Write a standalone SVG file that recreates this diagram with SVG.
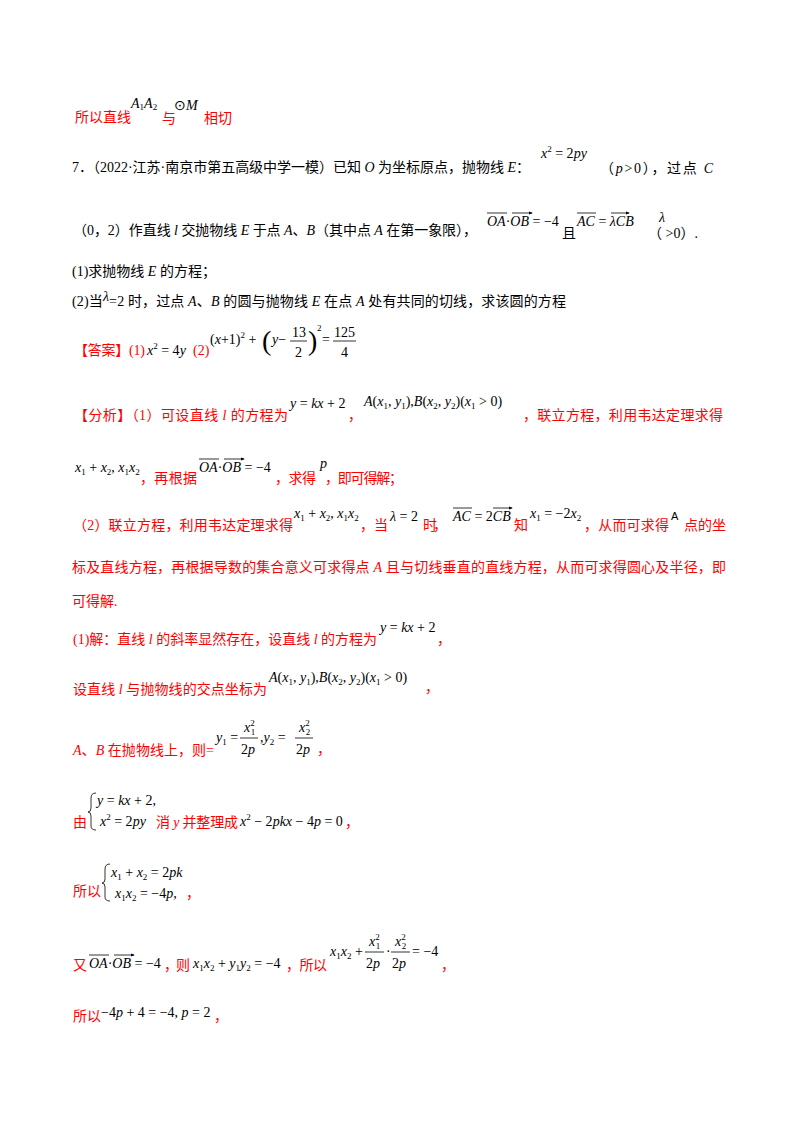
<svg xmlns="http://www.w3.org/2000/svg" width="800" height="1132" viewBox="0 0 800 1132">
<style>
text{font-family:"Liberation Serif","Noto Sans CJK SC",serif;font-size:14px;fill:#000}
.r{fill:#ff0000}
.m{font-family:"Liberation Serif",serif;font-style:italic}
.n{font-style:normal}
.s{font-size:9px}
.v{stroke:#000;stroke-width:0.8;fill:none}
.f{stroke:#000;stroke-width:0.8}
</style>
<defs><marker id="ah" markerWidth="5" markerHeight="4" refX="4" refY="2" orient="auto"><path d="M0,0L5,2L0,4z" fill="#000"/></marker></defs>
<rect width="800" height="1132" fill="#fff"/>
<g id="line1">
<text class="r" x="75" y="122">所以直线</text>
<text class="m" x="131" y="108">A<tspan class="s n" dy="2">1</tspan><tspan dy="-2">A</tspan><tspan class="s n" dy="2">2</tspan></text>
<text class="r" x="162" y="123">与</text>
<text class="m" x="174" y="110"><tspan class="n">⊙</tspan>M</text>
<text class="r" x="204" y="123">相切</text>
</g>
<g id="question">
<text x="72" y="172" textLength="458">7．（2022·江苏·南京市第五高级中学一模）已知 <tspan class="m">O</tspan> 为坐标原点，抛物线 <tspan class="m">E</tspan>：</text>
<text class="m" x="541" y="158">x<tspan class="s n" dy="-6">2</tspan><tspan class="n" dy="6"> = 2</tspan>py</text>
<text x="600" y="173" textLength="113">（<tspan class="m">p</tspan>&gt;0），过点 <tspan class="m">C</tspan></text>
<text x="73" y="235" textLength="404">（0，2）作直线 <tspan class="m">l</tspan> 交抛物线 <tspan class="m">E</tspan> 于点 <tspan class="m">A</tspan>、<tspan class="m">B</tspan>（其中点 <tspan class="m">A</tspan> 在第一象限），</text>
<text class="m" x="487" y="226">OA<tspan class="n">·</tspan>OB<tspan class="n"> = −4</tspan></text>
<path class="v" marker-end="url(#ah)" d="M487,213H507M512,213H532"/>
<text x="562" y="238">且</text>
<text class="m" x="577" y="226">AC<tspan class="n"> = </tspan>λCB</text>
<path class="v" marker-end="url(#ah)" d="M577,213H596M611,213H629"/>
<text class="m" x="659" y="222">λ</text>
<text x="648" y="238">（   &gt;0）.</text>
<text x="72" y="276">(1)求抛物线 <tspan class="m">E</tspan> 的方程；</text>
<text x="72" y="306" textLength="494">(2)当<tspan class="m" dy="-5">λ</tspan><tspan dy="5">=2 时，过点 </tspan><tspan class="m">A</tspan>、<tspan class="m">B</tspan> 的圆与抛物线 <tspan class="m">E</tspan> 在点 <tspan class="m">A</tspan> 处有共同的切线，求该圆的方程</text>
</g>
<g id="answer">
<text class="r" x="74" y="355" textLength="71">【答案】(1)</text>
<text class="m" x="147" y="355">x<tspan class="s n" dy="-6">2</tspan><tspan class="n" dy="6"> = 4</tspan>y</text>
<text class="r" x="193" y="355">(2)</text>
<text x="210" y="344">(<tspan class="m">x</tspan>+1)<tspan class="s" dy="-6">2</tspan><tspan dy="6"> + </tspan></text>
<text x="262" y="350" style="font-size:28px">(</text>
<text class="m" x="272" y="344">y<tspan class="n">−</tspan></text>
<text x="292" y="337">13</text><path class="f" d="M290,341H307"/><text x="295" y="357">2</text>
<text x="308" y="350" style="font-size:28px">)</text>
<text x="317" y="331" class="s">2</text>
<text x="322" y="344">=</text>
<text x="334" y="337">125</text><path class="f" d="M333,341H356"/><text x="341" y="357">4</text>
</g>
<g id="analysis">
<text class="r" x="74" y="420" textLength="214">【分析】（1）可设直线 <tspan class="m">l</tspan> 的方程为</text>
<text class="m" x="290" y="408">y<tspan class="n"> = </tspan>kx<tspan class="n"> + 2</tspan></text>
<text class="r" x="348" y="420">，</text>
<text class="m" x="364" y="406">A<tspan class="n">(</tspan>x<tspan class="s n" dy="3">1</tspan><tspan class="n" dy="-3">, </tspan>y<tspan class="s n" dy="3">1</tspan><tspan class="n" dy="-3">),</tspan>B<tspan class="n">(</tspan>x<tspan class="s n" dy="3">2</tspan><tspan class="n" dy="-3">, </tspan>y<tspan class="s n" dy="3">2</tspan><tspan class="n" dy="-3">)(</tspan>x<tspan class="s n" dy="3">1</tspan><tspan class="n" dy="-3"> &gt; 0)</tspan></text>
<text class="r" x="523" y="420" textLength="200">，联立方程，利用韦达定理求得</text>
<text class="m" x="75" y="472">x<tspan class="s n" dy="3">1</tspan><tspan class="n" dy="-3"> + </tspan>x<tspan class="s n" dy="3">2</tspan><tspan class="n" dy="-3">, </tspan>x<tspan class="s n" dy="3">1</tspan><tspan dy="-3">x</tspan><tspan class="s n" dy="3">2</tspan></text>
<text class="r" x="140" y="483" textLength="57">，再根据</text>
<text class="m" x="199" y="472">OA<tspan class="n">·</tspan>OB<tspan class="n"> = −4</tspan></text>
<path class="v" marker-end="url(#ah)" d="M199,459H219M224,459H244"/>
<text class="r" x="275" y="483" textLength="41">，求得</text>
<text class="m" x="320" y="468">p</text>
<text class="r" x="325" y="483" textLength="78">，即可得解；</text>
<text class="r" x="73" y="530" textLength="220">（2）联立方程，利用韦达定理求得</text>
<text class="m" x="294" y="518">x<tspan class="s n" dy="3">1</tspan><tspan class="n" dy="-3"> + </tspan>x<tspan class="s n" dy="3">2</tspan><tspan class="n" dy="-3">, </tspan>x<tspan class="s n" dy="3">1</tspan><tspan dy="-3">x</tspan><tspan class="s n" dy="3">2</tspan></text>
<text class="r" x="360" y="530" textLength="28">，当</text>
<text class="m" x="390" y="521">λ<tspan class="n"> = 2</tspan></text>
<text class="r" x="423" y="530" textLength="24">时，</text>
<text class="m" x="453" y="521">AC<tspan class="n"> = 2</tspan>CB</text>
<path class="v" marker-end="url(#ah)" d="M453,508H472M493,508H512"/>
<text class="r" x="514" y="530">知</text>
<text class="m" x="530" y="518">x<tspan class="s n" dy="3">1</tspan><tspan class="n" dy="-3"> = −2</tspan>x<tspan class="s n" dy="3">2</tspan></text>
<text class="r" x="584" y="530" textLength="85">，从而可求得</text>
<text x="671" y="520" style="font-family:'Liberation Sans',sans-serif;font-size:11px">A</text>
<text class="r" x="684" y="530" textLength="42">点的坐</text>
<text class="r" x="72" y="572" textLength="654">标及直线方程，再根据导数的集合意义可求得点 <tspan class="m">A</tspan> 且与切线垂直的直线方程，从而可求得圆心及半径，即</text>
<text class="r" x="72" y="606">可得解.</text>
</g>
<g id="solution">
<text class="m" x="380" y="632">y<tspan class="n"> = </tspan>kx<tspan class="n"> + 2</tspan></text>
<text class="r" x="73" y="644" textLength="304">(1)解：直线 <tspan class="m">l</tspan> 的斜率显然存在，设直线 <tspan class="m">l</tspan> 的方程为</text>
<text class="r" x="437" y="644">，</text>
<text class="r" x="73" y="694" textLength="194">设直线 <tspan class="m">l</tspan> 与抛物线的交点坐标为</text>
<text class="m" x="269" y="682">A<tspan class="n">(</tspan>x<tspan class="s n" dy="3">1</tspan><tspan class="n" dy="-3">, </tspan>y<tspan class="s n" dy="3">1</tspan><tspan class="n" dy="-3">),</tspan>B<tspan class="n">(</tspan>x<tspan class="s n" dy="3">2</tspan><tspan class="n" dy="-3">, </tspan>y<tspan class="s n" dy="3">2</tspan><tspan class="n" dy="-3">)(</tspan>x<tspan class="s n" dy="3">1</tspan><tspan class="n" dy="-3"> &gt; 0)</tspan></text>
<text class="r" x="425" y="692">，</text>
<text class="r" x="73" y="755" textLength="141"><tspan class="m">A</tspan>、<tspan class="m">B</tspan> 在抛物线上，则=</text>
<text class="m" x="216" y="742">y<tspan class="s n" dy="3">1</tspan><tspan class="n" dy="-3"> =</tspan></text>
<text class="m" x="244" y="732">x<tspan class="s n" dy="-6">2</tspan><tspan class="s n" dx="-4" dy="9">1</tspan></text>
<path class="f" d="M240,738H258"/>
<text class="m" x="241" y="754"><tspan class="n">2</tspan>p</text>
<text class="m" x="260" y="742"><tspan class="n">,</tspan>y<tspan class="s n" dy="3">2</tspan><tspan class="n" dy="-3"> =</tspan></text>
<text class="m" x="299" y="732">x<tspan class="s n" dy="-6">2</tspan><tspan class="s n" dx="-4" dy="9">2</tspan></text>
<path class="f" d="M295,738H313"/>
<text class="m" x="296" y="754"><tspan class="n">2</tspan>p</text>
<text class="r" x="317" y="754">，</text>
<text class="r" x="73" y="827">由</text>
<path d="M96,793Q91,793 91,798V808Q91,812 88,812Q91,812 91,816V826Q91,830 96,830" fill="none" stroke="#000" stroke-width="0.8"/>
<text class="m" x="97" y="805">y<tspan class="n"> = </tspan>kx<tspan class="n"> + 2,</tspan></text>
<text class="m" x="100" y="826">x<tspan class="s n" dy="-6">2</tspan><tspan class="n" dy="6"> = 2</tspan>py</text>
<text class="r" x="156" y="827" textLength="82">消 <tspan class="m">y</tspan> 并整理成</text>
<text class="m" x="240" y="826">x<tspan class="s n" dy="-6">2</tspan><tspan class="n" dy="6"> − 2</tspan>pkx<tspan class="n"> − 4</tspan>p<tspan class="n"> = 0</tspan></text>
<text class="r" x="345" y="827">，</text>
<text class="r" x="73" y="896">所以</text>
<path d="M110,864Q105,864 105,869V879Q105,883 102,883Q105,883 105,887V897Q105,901 110,901" fill="none" stroke="#000" stroke-width="0.8"/>
<text class="m" x="111" y="877">x<tspan class="s n" dy="3">1</tspan><tspan class="n" dy="-3"> + </tspan>x<tspan class="s n" dy="3">2</tspan><tspan class="n" dy="-3"> = 2</tspan>pk</text>
<text class="m" x="115" y="898">x<tspan class="s n" dy="3">1</tspan><tspan dy="-3">x</tspan><tspan class="s n" dy="3">2</tspan><tspan class="n" dy="-3"> = −4</tspan>p<tspan class="n">,</tspan></text>
<text class="r" x="186" y="898">，</text>
<text class="r" x="73" y="970">又</text>
<text class="m" x="89" y="968">OA<tspan class="n">·</tspan>OB<tspan class="n"> = −4</tspan></text>
<path class="v" marker-end="url(#ah)" d="M89,955H109M114,955H134"/>
<text class="r" x="164" y="970" textLength="26">，则</text>
<text class="m" x="193" y="968">x<tspan class="s n" dy="3">1</tspan><tspan dy="-3">x</tspan><tspan class="s n" dy="3">2</tspan><tspan class="n" dy="-3"> + </tspan>y<tspan class="s n" dy="3">1</tspan><tspan dy="-3">y</tspan><tspan class="s n" dy="3">2</tspan><tspan class="n" dy="-3"> = −4</tspan></text>
<text class="r" x="286" y="970" textLength="41">，所以</text>
<text class="m" x="330" y="956">x<tspan class="s n" dy="3">1</tspan><tspan dy="-3">x</tspan><tspan class="s n" dy="3">2</tspan><tspan class="n" dy="-3"> +</tspan></text>
<text class="m" x="369" y="946">x<tspan class="s n" dy="-6">2</tspan><tspan class="s n" dx="-4" dy="9">1</tspan></text>
<path class="f" d="M365,952H384"/>
<text class="m" x="366" y="968"><tspan class="n">2</tspan>p</text>
<text x="386" y="956">·</text>
<text class="m" x="395" y="946">x<tspan class="s n" dy="-6">2</tspan><tspan class="s n" dx="-4" dy="9">2</tspan></text>
<path class="f" d="M391,952H410"/>
<text class="m" x="392" y="968"><tspan class="n">2</tspan>p</text>
<text x="412" y="956">= −4</text>
<text class="r" x="441" y="970">，</text>
<text class="r" x="73" y="1021">所以</text>
<text class="m" x="101" y="1017"><tspan class="n">−4</tspan>p<tspan class="n"> + 4 = −4, </tspan>p<tspan class="n"> = 2</tspan></text>
<text class="r" x="214" y="1021">，</text>
</g>
</svg>
